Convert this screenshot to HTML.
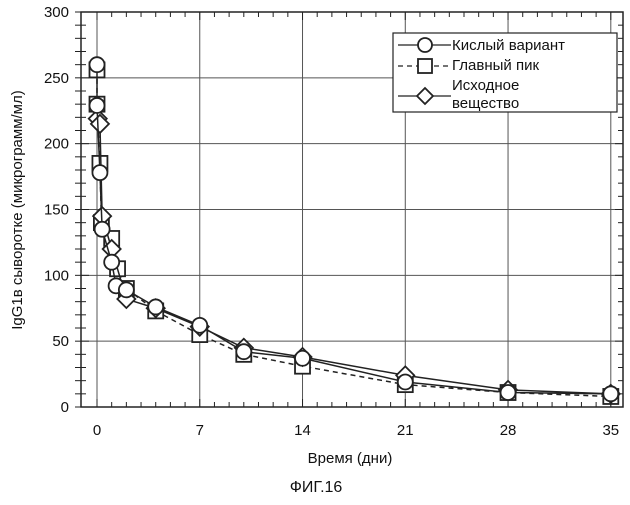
<!DOCTYPE html>
<html><head><meta charset="utf-8"><style>
body{margin:0;background:#fff;}
svg text{font-family:"Liberation Sans","DejaVu Sans",sans-serif;fill:#111;}
</style></head><body>
<svg id="chart" width="630" height="500" viewBox="0 0 630 500" xmlns="http://www.w3.org/2000/svg">
<g id="grid"></g>
<g id="axes"></g>
<g id="series"></g>
<text x="350" y="463" text-anchor="middle" font-size="15">Время (дни)</text>
<text transform="translate(22,210) rotate(-90)" text-anchor="middle" font-size="15">IgG1в сыворотке (микрограмм/мл)</text>
<text x="316" y="492" text-anchor="middle" font-size="16">ФИГ.16</text>
<g>
<rect x="393" y="33" width="224" height="79" fill="#fff" stroke="#222" stroke-width="1.2"/>
<g>
<line x1="398" y1="45" x2="451" y2="45" stroke="#222" stroke-width="1.2"/>
<circle cx="425" cy="45" r="7" fill="#fff" stroke="#222" stroke-width="1.8"/>
<text x="452" y="50" font-size="15">Кислый вариант</text></g>
<g>
<line x1="398" y1="66" x2="451" y2="66" stroke="#222" stroke-width="1.2" stroke-dasharray="5,4"/>
<rect x="418" y="59" width="14" height="14" fill="#fff" stroke="#222" stroke-width="1.8"/>
<text x="452" y="70" font-size="15">Главный пик</text></g>
<g>
<line x1="398" y1="96" x2="451" y2="96" stroke="#222" stroke-width="1.2"/>
<polygon points="425,88 433,96 425,104 417,96" fill="#fff" stroke="#222" stroke-width="1.8"/>
<text x="452" y="90" font-size="15">Исходное</text>
<text x="452" y="108" font-size="15">вещество</text></g>
</g>
</svg>
<script>
const xTicks=[0,7,14,21,28,35];
const yTicks=[0,50,100,150,200,250,300];
const acidT=[0,0,0.2,0.35,1,1.3,2,4,7,10,14,21,28,35];
const acidV=[260,229,178,135,110,92,89,76,62,42,37,19,11,10];
const mainT=[0,0,0.2,0.3,1,1.4,2,4,7,10,14,21,28,35];
const mainV=[256,230,185,140,128,105,90,73,55,40,31,17,11,8];
const parentT=[0.05,0.2,0.35,1,2,4,7,10,14,21,28,35];
const parentV=[219,215,145,120,82,75,61,45,38,24,13,10];
const L=81,R=623,T=12,B=407,X0=97,XS=14.68;
const sx=t=>X0+t*XS, sy=v=>B-(v/300)*(B-T);
const NS="http://www.w3.org/2000/svg";
function mk(tag,attrs,parent){const e=document.createElementNS(NS,tag);for(const k in attrs)e.setAttribute(k,attrs[k]);parent.appendChild(e);return e;}
const grid=document.getElementById('grid'),axes=document.getElementById('axes'),ser=document.getElementById('series');
xTicks.forEach(t=>{const l=mk('line',{x1:sx(t),x2:sx(t),y1:T,y2:B,stroke:'#555','stroke-width':1},grid);


const tx=mk('text',{x:sx(t),y:B+28,'text-anchor':'middle','font-size':15},axes);tx.textContent=t;

});
yTicks.forEach(v=>{if(v>0&&v<300){const l=mk('line',{x1:L,x2:R,y1:sy(v),y2:sy(v),stroke:'#555','stroke-width':1},grid);

}
const tx=mk('text',{x:L-12,y:sy(v)+5,'text-anchor':'end','font-size':15},axes);tx.textContent=v;

});
const fr=mk('rect',{x:L,y:T,width:R-L,height:B-T,fill:'none',stroke:'#222','stroke-width':1.5},axes);


for(let t=0;t<=36;t++){const x=sx(t);if(x>R)break;const len=(t%7==0)?8:5;
mk('line',{x1:x,x2:x,y1:B,y2:B-len,stroke:'#222'},axes);mk('line',{x1:x,x2:x,y1:T,y2:T+len,stroke:'#222'},axes);}
for(let v=0;v<=300;v+=10){const len=(v%50==0)?8:5;
mk('line',{x1:L,x2:L+len,y1:sy(v),y2:sy(v),stroke:'#222'},axes);mk('line',{x1:R,x2:R-len,y1:sy(v),y2:sy(v),stroke:'#222'},axes);
mk('line',{x1:L,x2:L-6,y1:sy(v),y2:sy(v),stroke:'#222'},axes);}
function drawSeries(ts,vs,shape,dash,name){
const pts=ts.map((t,i)=>sx(t)+','+sy(vs[i])).join(' ');
const pl=mk('polyline',{points:pts,fill:'none',stroke:'#222','stroke-width':1.5,'stroke-dasharray':dash},ser);


ts.forEach((t,i)=>{const x=sx(t),y=sy(vs[i]);let m;
if(shape=='circle')m=mk('circle',{cx:x,cy:y,r:7.5,fill:'#fff',stroke:'#222','stroke-width':1.8},ser);
else if(shape=='square')m=mk('rect',{x:x-7.5,y:y-7.5,width:15,height:15,fill:'#fff',stroke:'#222','stroke-width':1.8},ser);
else m=mk('polygon',{points:`${x},${y-9} ${x+9},${y} ${x},${y+9} ${x-9},${y}`,fill:'#fff',stroke:'#222','stroke-width':1.8},ser);

});}
drawSeries(mainT,mainV,'square','5,4','main-peak');
drawSeries(parentT,parentV,'diamond','none','parent');
drawSeries(acidT,acidV,'circle','none','acid-variant');
</script>
</body></html>
